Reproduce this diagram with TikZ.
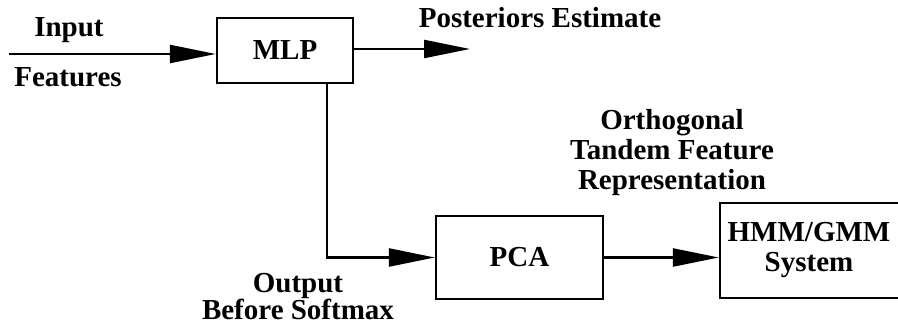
\documentclass[tikz,border=0pt]{standalone}
\usepackage{fontspec}
\setmainfont{Liberation Serif}
\usetikzlibrary{arrows.meta}
\begin{document}
\begin{tikzpicture}[x=1pt, y=1pt,
        block/.style={draw, line width=2.4pt, inner sep=0pt},
        flow/.style={-{Triangle[length=46pt, width=18pt]}, line width=2.4pt},
        lbl/.style={align=center, font=\fontsize{29}{30}\selectfont\bfseries}]
            \useasboundingbox (0, 0) rectangle (898, 326);
            \clip (0, 0) rectangle (898, 326);
            \node[block, lbl, minimum width=136, minimum height=65] (mlp) at (285, 275.5) {MLP};
            \node[block, lbl, minimum width=167, minimum height=83] (pca) at (519.5, 68.5) {PCA};
            \node[block, minimum width=200, minimum height=95] (hmm) at (820, 75.5) {};
            \node[lbl] (hmmlbl) at (809, 76) {HMM/GMM\\System};
            \coordinate (in) at (9, 272);
            \coordinate (post) at (470, 277);
            \draw[flow] (in) -- (mlp.west |- in);
            \draw[flow] (mlp.east |- post) -- (post);
            \draw[flow] (mlp.south) ++(42, 0) |- (pca.west);
            \draw[flow] (pca.east) -- (pca.east -| hmm.west);
            \node[lbl] (input) at (69, 296) {Input};
            \node[lbl] (feat) at (68, 249) {Features};
            \node[lbl] (postlbl) at (540, 308) {Posteriors Estimate};
            \node[lbl] (ortho) at (672, 173.5) {Orthogonal\\Tandem Feature\\Representation};
            \node[lbl, font=\fontsize{29}{27}\selectfont\bfseries] (outlbl) at (298, 29) {Output\\Before Softmax};
        \end{tikzpicture}
\end{document}
